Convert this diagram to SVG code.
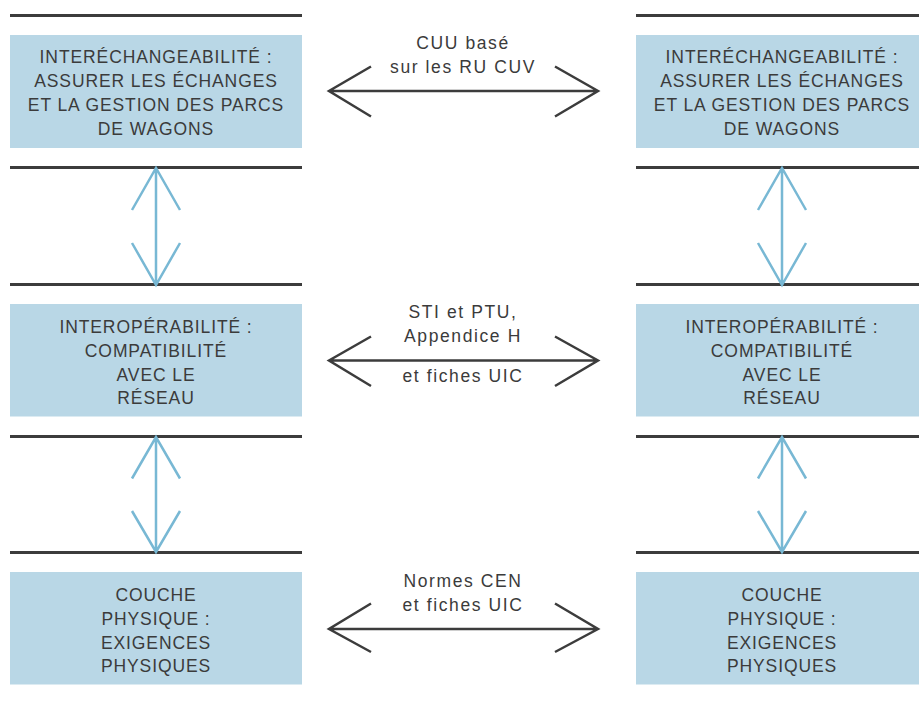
<svg xmlns="http://www.w3.org/2000/svg" width="919" height="702" viewBox="0 0 919 702">
<style>
.rule{stroke:#3c3c3c;stroke-width:3;fill:none}
.box{fill:#b9d7e6}
.bt{font-family:"Liberation Sans",Arial,sans-serif;font-size:17.5px;letter-spacing:0.9px;fill:#3b3b3b;text-anchor:middle}
.lt{font-family:"Liberation Sans",Arial,sans-serif;font-size:17.5px;letter-spacing:1.6px;fill:#3b3b3b;text-anchor:middle}
.harr{stroke:#3c3c3c;stroke-width:2.5;fill:none;stroke-linecap:butt}
.varr{stroke:#78b8d4;stroke-width:2.5;fill:none}
</style>
<rect width="919" height="702" fill="#ffffff"/>
<g id="rules">
<line class="rule" x1="10" y1="15.5" x2="302" y2="15.5"/>
<line class="rule" x1="10" y1="167.5" x2="302" y2="167.5"/>
<line class="rule" x1="10" y1="284.5" x2="302" y2="284.5"/>
<line class="rule" x1="10" y1="436.5" x2="302" y2="436.5"/>
<line class="rule" x1="10" y1="552.5" x2="302" y2="552.5"/>
<line class="rule" x1="636" y1="15.5" x2="919" y2="15.5"/>
<line class="rule" x1="636" y1="167.5" x2="919" y2="167.5"/>
<line class="rule" x1="636" y1="284.5" x2="919" y2="284.5"/>
<line class="rule" x1="636" y1="436.5" x2="919" y2="436.5"/>
<line class="rule" x1="636" y1="552.5" x2="919" y2="552.5"/>
</g>
<g id="left-top">
<rect class="box" x="10" y="35" width="292" height="113"/>
<text class="bt" x="156" y="63">INTERÉCHANGEABILITÉ :</text>
<text class="bt" x="156" y="87">ASSURER LES ÉCHANGES</text>
<text class="bt" x="156" y="111">ET LA GESTION DES PARCS</text>
<text class="bt" x="156" y="134.5">DE WAGONS</text>
</g>
<g id="right-top">
<rect class="box" x="636" y="35" width="292" height="113"/>
<text class="bt" x="782" y="63">INTERÉCHANGEABILITÉ :</text>
<text class="bt" x="782" y="87">ASSURER LES ÉCHANGES</text>
<text class="bt" x="782" y="111">ET LA GESTION DES PARCS</text>
<text class="bt" x="782" y="134.5">DE WAGONS</text>
</g>
<g id="left-mid">
<rect class="box" x="10" y="304" width="292" height="112.5"/>
<text class="bt" x="156" y="332.5">INTEROPÉRABILITÉ :</text>
<text class="bt" x="156" y="356.5">COMPATIBILITÉ</text>
<text class="bt" x="156" y="380.5">AVEC LE</text>
<text class="bt" x="156" y="404">RÉSEAU</text>
</g>
<g id="right-mid">
<rect class="box" x="636" y="304" width="292" height="112.5"/>
<text class="bt" x="782" y="332.5">INTEROPÉRABILITÉ :</text>
<text class="bt" x="782" y="356.5">COMPATIBILITÉ</text>
<text class="bt" x="782" y="380.5">AVEC LE</text>
<text class="bt" x="782" y="404">RÉSEAU</text>
</g>
<g id="left-bot">
<rect class="box" x="10" y="572" width="292" height="112.5"/>
<text class="bt" x="156" y="600.5">COUCHE</text>
<text class="bt" x="156" y="624.5">PHYSIQUE :</text>
<text class="bt" x="156" y="648.5">EXIGENCES</text>
<text class="bt" x="156" y="672">PHYSIQUES</text>
</g>
<g id="right-bot">
<rect class="box" x="636" y="572" width="292" height="112.5"/>
<text class="bt" x="782" y="600.5">COUCHE</text>
<text class="bt" x="782" y="624.5">PHYSIQUE :</text>
<text class="bt" x="782" y="648.5">EXIGENCES</text>
<text class="bt" x="782" y="672">PHYSIQUES</text>
</g>
<g id="connectors">
<path class="harr" d="M329,91 H598 M371,66.5 L329,91 L371,116.5 M555,66.5 L598,91 L555,116.5"/>
<path class="harr" d="M329,360.5 H598 M371,336.5 L329,360.5 L371,386 M555,336.5 L598,360.5 L555,386"/>
<path class="harr" d="M329,629 H598 M371,603.5 L329,629 L371,652 M555,603.5 L598,629 L555,652"/>
<path class="varr" d="M156,168 V285 M132,210 L156,168 L180,210 M132,243 L156,285 L180,243"/>
<path class="varr" d="M156,437 V552 M132,478.5 L156,437 L180,478.5 M132,511 L156,552 L180,511"/>
<path class="varr" d="M782,168 V285 M758,210 L782,168 L806,210 M758,243 L782,285 L806,243"/>
<path class="varr" d="M782,437 V552 M758,478.5 L782,437 L806,478.5 M758,511 L782,552 L806,511"/>
</g>
<g id="labels">
<text class="lt" x="463" y="49">CUU basé</text>
<text class="lt" x="463" y="73">sur les RU CUV</text>
<text class="lt" x="463" y="318">STI et PTU,</text>
<text class="lt" x="463" y="341.5">Appendice H</text>
<text class="lt" x="463" y="381.5">et fiches UIC</text>
<text class="lt" x="463" y="587">Normes CEN</text>
<text class="lt" x="463" y="611">et fiches UIC</text>
</g>
</svg>
